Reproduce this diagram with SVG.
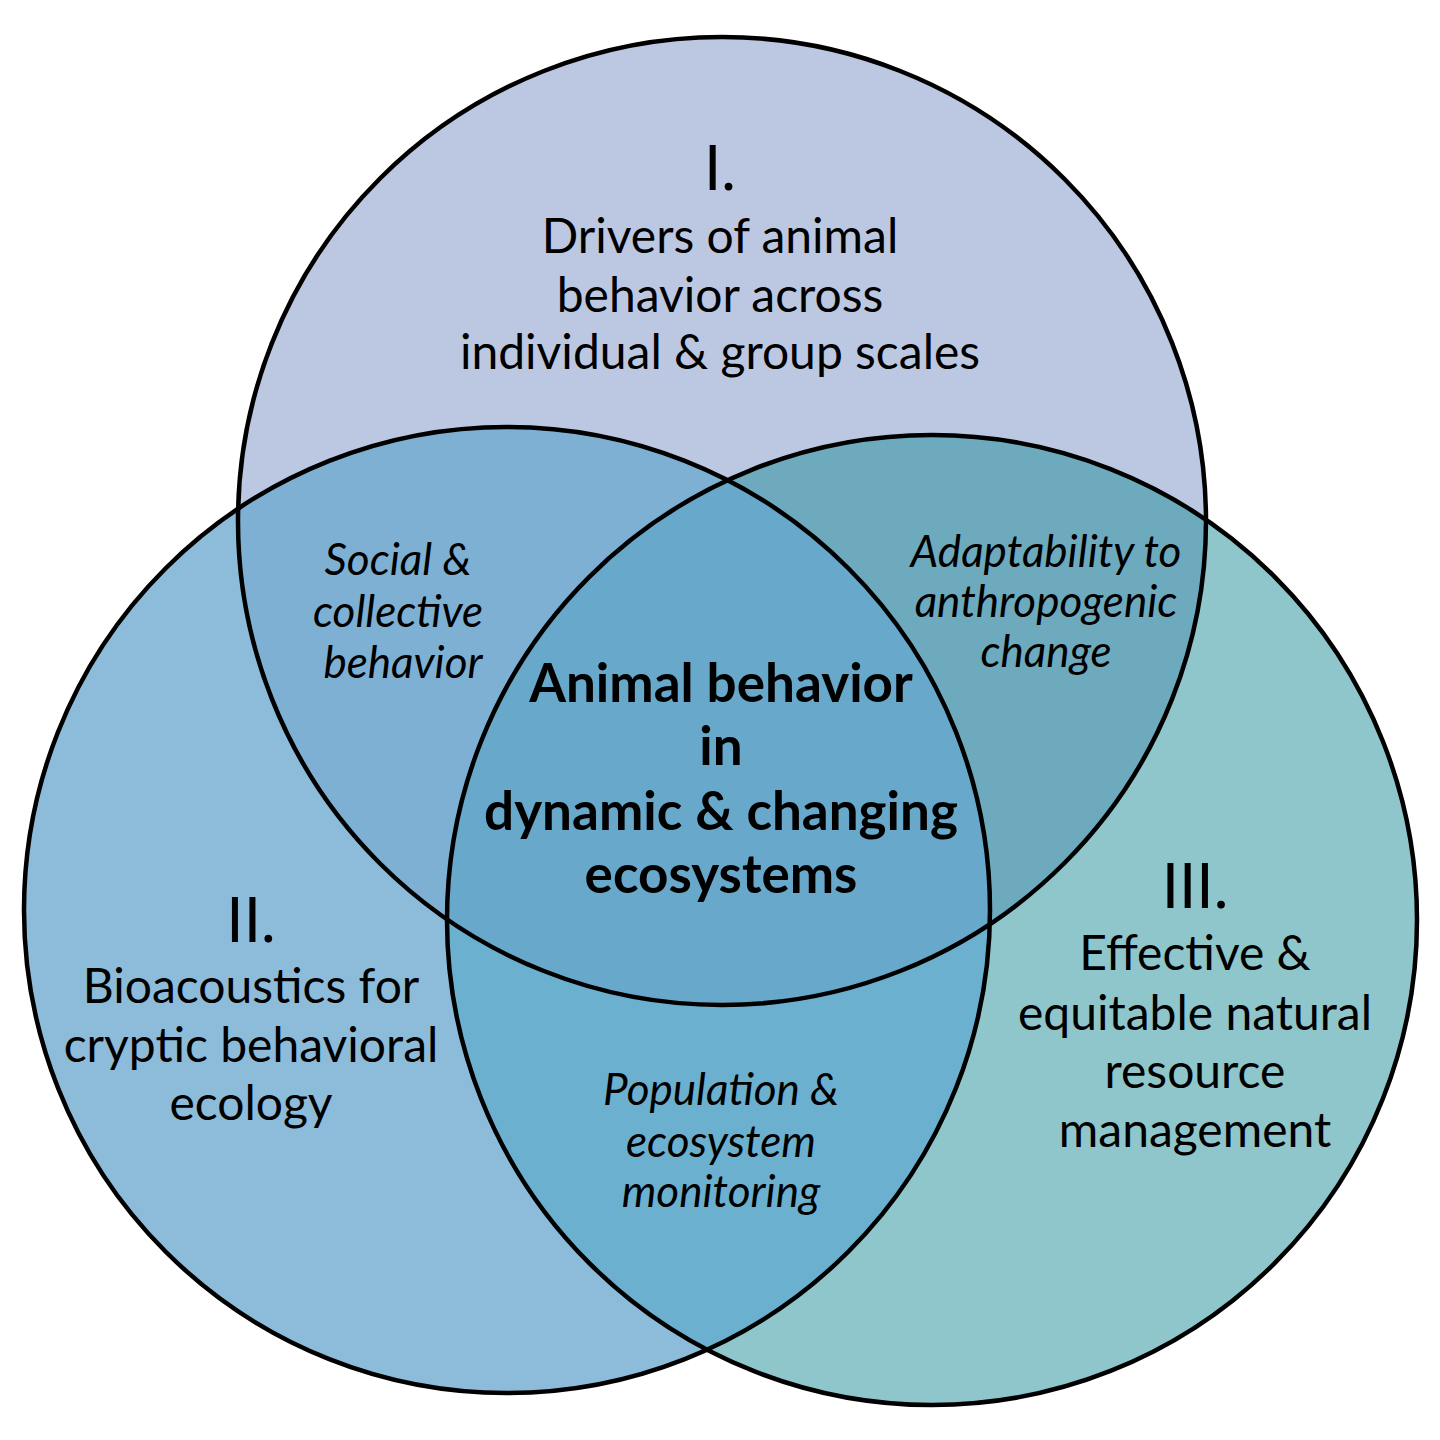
<svg xmlns="http://www.w3.org/2000/svg" width="1440" height="1440" viewBox="0 0 1440 1440">
<style>
.outline{fill:none;stroke:#000;stroke-width:4.5}
.t{font-family:Lato,"Open Sans","Noto Sans",sans-serif;fill:#000;text-anchor:middle}
.main{font-size:48px}
.num{font-size:62px}
.it{font-size:44px;font-style:italic}
.bold{font-size:53px;font-weight:bold}
</style>
<defs>
<clipPath id="cTop"><circle cx="722" cy="521" r="484"/></clipPath>
<clipPath id="cLeft"><circle cx="507" cy="910" r="483"/></clipPath>
<clipPath id="cRight"><circle cx="932" cy="920" r="485"/></clipPath>
</defs>
<rect width="1440" height="1440" fill="#fff"/>
<g id="circle-I">
<circle cx="722" cy="521" r="484" fill="#bcc8e2"/>
</g>
<g id="circle-II">
<circle cx="507" cy="910" r="483" fill="#8dbcda"/>
</g>
<g id="circle-III">
<circle cx="932" cy="920" r="485" fill="#8fc6cb"/>
</g>
<g id="overlap-I-II" clip-path="url(#cTop)">
<circle cx="507" cy="910" r="483" fill="#7eb0d4"/>
</g>
<g id="overlap-I-III" clip-path="url(#cTop)">
<circle cx="932" cy="920" r="485" fill="#6daabd"/>
</g>
<g id="overlap-II-III" clip-path="url(#cLeft)">
<circle cx="932" cy="920" r="485" fill="#6cb0cf"/>
</g>
<g id="overlap-center" clip-path="url(#cTop)">
<g clip-path="url(#cLeft)">
<circle cx="932" cy="920" r="485" fill="#68a8cb"/>
</g>
</g>
<g id="connectors">
<circle class="outline" cx="722" cy="521" r="484"/>
<circle class="outline" cx="507" cy="910" r="483"/>
<circle class="outline" cx="932" cy="920" r="485"/>
</g>
<g id="label-I" class="t">
<text class="num" x="720" y="190">I.</text>
<text class="main" x="720" y="253">Drivers of animal</text>
<text class="main" x="720" y="312">behavior across</text>
<text class="main" x="720" y="369">individual &amp; group scales</text>
</g>
<g id="label-II" class="t">
<text class="num" x="251" y="942">II.</text>
<text class="main" x="251" y="1003">Bioacoustics for</text>
<text class="main" x="251" y="1062">cryptic behavioral</text>
<text class="main" x="251" y="1120">ecology</text>
</g>
<g id="label-III" class="t">
<text class="num" x="1195" y="908">III.</text>
<text class="main" x="1195" y="970">Effective &amp;</text>
<text class="main" x="1195" y="1030">equitable natural</text>
<text class="main" x="1195" y="1088">resource</text>
<text class="main" x="1195" y="1147">management</text>
</g>
<g id="label-I-II" class="t">
<text class="it" x="398" y="575">Social &amp;</text>
<text class="it" x="398" y="627">collective</text>
<text class="it" x="403" y="678">behavior</text>
</g>
<g id="label-I-III" class="t">
<text class="it" x="1046" y="567">Adaptability to</text>
<text class="it" x="1046" y="617">anthropogenic</text>
<text class="it" x="1046" y="667">change</text>
</g>
<g id="label-II-III" class="t">
<text class="it" x="721" y="1105">Population &amp;</text>
<text class="it" x="721" y="1157">ecosystem</text>
<text class="it" x="721" y="1207">monitoring</text>
</g>
<g id="label-center" class="t">
<text class="bold" x="721" y="702">Animal behavior</text>
<text class="bold" x="721" y="765">in</text>
<text class="bold" x="721" y="830">dynamic &amp; changing</text>
<text class="bold" x="721" y="893">ecosystems</text>
</g>
</svg>
